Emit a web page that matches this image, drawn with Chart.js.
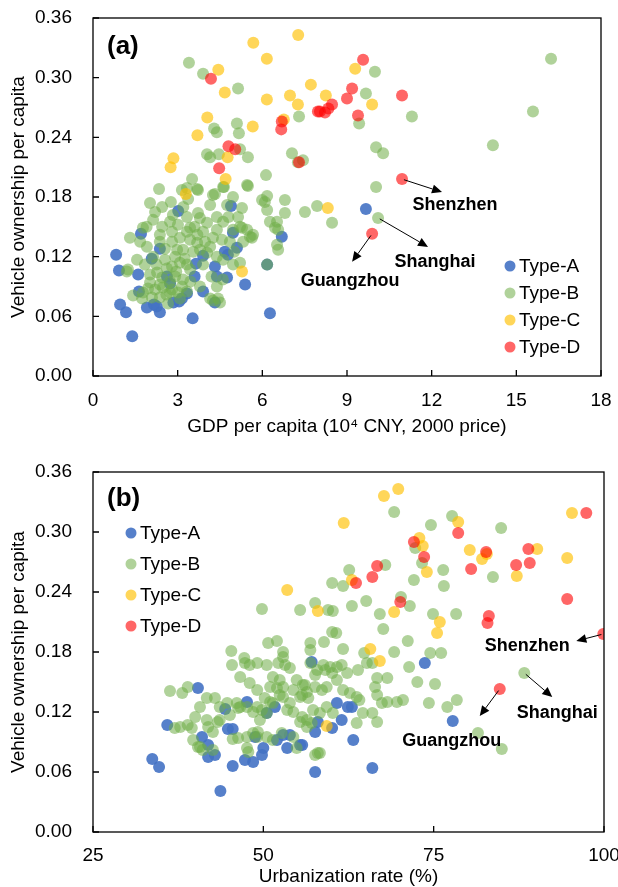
<!DOCTYPE html>
<html>
<head>
<meta charset="utf-8">
<script src="https://cdn.jsdelivr.net/npm/chart.js@4.4.0/dist/chart.umd.min.js"></script>
<style>
  html, body { margin: 0; padding: 0; background: #fff; }
  canvas { display: block; }
</style>
</head>
<body>
<canvas id="gdpChart" width="618" height="440"></canvas>
<canvas id="urbChart" width="618" height="447"></canvas>
<script>
// ==========================
// Data
// ==========================
const typeLabels = ["Type-A", "Type-B", "Type-C", "Type-D"];
const typeKeys = ["A", "B", "C", "D"];

const gdpTicks = [0, 3, 6, 9, 12, 15, 18];
const urbTicks = [25, 50, 75, 100];
const vehTicks = [0, 0.06, 0.12, 0.18, 0.24, 0.30, 0.36];

// labelled cities (added to their type series)
const cityNames = ["Shenzhen", "Shanghai", "Guangzhou"];
const cityTypes = ["D", "B", "D"];
const cityGdp = [10.95, 10.1, 9.89];
const cityUrban = [99.9, 88.3, 84.7];
const cityVehicle = [0.198, 0.159, 0.143];

// panel (a): [GDP per capita, vehicles per capita]
const gdpTypeA = [
  [0.82,0.122],[0.92,0.106],[0.96,0.072],[1.17,0.064],[1.39,0.040],[1.70,0.143],[2.37,0.128],[2.08,0.118],
  [1.60,0.102],[1.63,0.085],[1.91,0.069],[2.26,0.070],[2.37,0.064],[2.16,0.072],[2.62,0.100],[2.73,0.093],
  [3.02,0.166],[2.85,0.074],[3.05,0.075],[3.15,0.078],[3.33,0.083],[3.65,0.113],[3.90,0.121],[3.60,0.100],
  [3.90,0.085],[3.53,0.058],[4.32,0.110],[4.39,0.100],[4.75,0.099],[4.67,0.125],[4.78,0.122],[5.10,0.129],
  [4.96,0.144],[4.89,0.171],[5.39,0.092],[4.32,0.074],[6.27,0.063],[6.69,0.140],[6.17,0.112],[9.67,0.168]
];
const gdpTypeB = [
  [16.23,0.319],[15.59,0.266],[14.17,0.232],[9.99,0.306],[9.67,0.284],[9.43,0.254],[11.30,0.261],[10.03,0.230],
  [10.28,0.224],[10.03,0.190],[7.51,0.165],[7.94,0.171],[8.47,0.154],
  [3.40,0.315],[3.90,0.304],[5.14,0.289],[4.29,0.249],[4.39,0.245],[5.10,0.254],[5.17,0.244],[4.04,0.223],
  [4.15,0.220],[4.46,0.223],[5.21,0.228],[5.49,0.220],[7.05,0.224],[7.44,0.217],[7.30,0.261],[7.26,0.215],
  [6.13,0.202],[5.49,0.191],[4.64,0.190],[3.51,0.198],[3.15,0.187],[3.69,0.188],[2.34,0.188],[2.02,0.174],
  [2.76,0.175],[3.37,0.178],[4.32,0.183],[4.96,0.180],[5.28,0.169],[5.99,0.177],[6.09,0.175],[6.80,0.177],
  [6.17,0.181],[4.25,0.182],[4.61,0.190],[3.72,0.187],[3.33,0.189],[5.46,0.192],
  [6.17,0.167],[4.75,0.172],[4.15,0.172],[3.72,0.164],[3.33,0.160],[2.83,0.162],[2.20,0.165],[2.13,0.157],
  [2.73,0.155],[3.01,0.152],[3.44,0.149],[3.79,0.159],[4.04,0.154],[4.39,0.160],[4.61,0.155],[5.14,0.160],
  [5.28,0.149],[4.96,0.147],[4.39,0.147],[3.90,0.145],[3.33,0.145],[2.80,0.145],[2.37,0.142],[1.77,0.149],
  [1.31,0.139],[1.67,0.135],[1.91,0.130],[2.37,0.135],[2.80,0.135],[3.08,0.139],[3.44,0.137],[3.69,0.134],
  [3.97,0.135],[4.25,0.139],[4.57,0.137],[4.85,0.135],[5.32,0.135],[5.63,0.139],[5.46,0.147],[6.27,0.155],
  [6.52,0.155],[6.45,0.149],[6.56,0.147],[6.52,0.132],[6.56,0.127],[6.17,0.112],[5.21,0.150],[5.56,0.140],
  [6.80,0.164],[5.67,0.142],
  [1.56,0.117],[1.84,0.112],[2.13,0.120],[2.55,0.117],[2.91,0.120],[3.19,0.127],[2.98,0.127],[2.80,0.110],
  [3.08,0.114],[3.33,0.112],[3.44,0.107],[4.04,0.124],[4.39,0.120],[4.61,0.117],[4.96,0.112],[5.21,0.114],
  [4.15,0.130],[3.79,0.127],[1.24,0.107],[2.02,0.102],[2.27,0.104],[2.45,0.099],[2.73,0.095],[2.91,0.100],
  [3.19,0.097],[3.15,0.090],[2.37,0.092],[2.02,0.094],[2.20,0.087],[2.48,0.089],[2.80,0.087],[1.77,0.084],
  [1.42,0.081],[1.74,0.078],[2.09,0.079],[2.37,0.079],[2.73,0.084],[3.01,0.084],[3.33,0.085],[3.08,0.078],
  [4.39,0.090],[4.25,0.076],[4.50,0.074],[2.66,0.073],[1.20,0.105],[3.79,0.090],[4.15,0.078],[4.43,0.078],
  [2.55,0.128],[2.62,0.108],[3.25,0.118],[3.55,0.125],[2.45,0.150],[3.60,0.150],[3.90,0.112],[4.20,0.100],
  [2.95,0.105],[2.60,0.082],[3.45,0.095],[1.95,0.088],[2.25,0.112],[3.70,0.142],[4.80,0.160],[5.00,0.125],
  [4.60,0.097],[3.20,0.170],[1.90,0.150],[2.45,0.170]
];
const gdpTypeC = [
  [5.68,0.335],[7.27,0.343],[6.16,0.319],[4.44,0.308],[4.67,0.285],[6.16,0.278],[6.98,0.282],[7.26,0.273],
  [7.72,0.293],[4.05,0.260],[5.66,0.251],[3.70,0.242],[2.85,0.219],[2.75,0.210],[4.77,0.220],[4.70,0.198],
  [6.76,0.258],[3.29,0.183],[9.29,0.309],[8.25,0.282],[9.89,0.273],[8.32,0.169],[5.28,0.105]
];
const gdpTypeD = [
  [4.18,0.299],[4.47,0.209],[4.80,0.231],[5.04,0.228],[6.67,0.248],[6.69,0.256],[7.30,0.215],[7.97,0.266],
  [8.04,0.266],[8.22,0.265],[8.34,0.269],[8.47,0.273],[9.00,0.279],[9.18,0.289],[9.39,0.262],[9.57,0.318],
  [10.95,0.282]
];

// panel (b): [urbanization rate, vehicles per capita]
const urbTypeA = [
  [33.7,0.073],[34.7,0.065],[35.9,0.107],[40.4,0.144],[43.7,0.041],[44.4,0.123],[41.0,0.095],[41.9,0.087],
  [41.9,0.075],[42.9,0.077],[44.8,0.103],[45.5,0.103],[45.5,0.066],[47.6,0.130],[47.3,0.072],[48.5,0.070],
  [48.8,0.095],[50.0,0.084],[49.8,0.077],[51.7,0.125],[50.5,0.119],[52.0,0.092],[53.5,0.084],[53.9,0.097],
  [55.7,0.087],[57.1,0.170],[57.6,0.100],[57.6,0.060],[58.0,0.110],[73.7,0.169],[77.8,0.111],[63.2,0.092],
  [66.0,0.064],[60.8,0.129],[62.4,0.125],[63.0,0.125],[60.1,0.104],[61.5,0.112],[55.4,0.087],[52.9,0.097]
];
const urbTypeB = [
  [69.2,0.320],[77.7,0.316],[74.6,0.307],[84.9,0.304],[67.9,0.267],[62.6,0.262],[60.1,0.249],[61.7,0.246],
  [73.3,0.269],[76.4,0.262],[72.1,0.252],[76.5,0.246],[83.7,0.255],[70.2,0.235],[71.5,0.226],[65.1,0.231],
  [63.0,0.226],[57.6,0.229],[59.5,0.222],[60.2,0.221],[67.1,0.218],[74.9,0.218],[78.3,0.218],[55.4,0.222],
  [67.6,0.203],[60.7,0.199],[71.2,0.191],[56.9,0.189],[58.9,0.190],[56.9,0.182],[61.7,0.183],[64.8,0.179],
  [69.2,0.180],[74.5,0.179],[76.1,0.179],[72.3,0.284],[49.8,0.223],
  [71.4,0.165],[72.6,0.150],[75.2,0.148],[68.2,0.154],[81.5,0.099],[85.0,0.083],[78.4,0.132],[77.0,0.125],
  [74.3,0.129],[70.5,0.132],[69.6,0.130],[68.2,0.130],[66.7,0.154],[66.4,0.145],[66.7,0.137],[67.4,0.129],
  [66.0,0.119],[66.7,0.110],[63.7,0.109],[58.3,0.079],
  [36.3,0.141],[38.1,0.139],[38.9,0.145],[37.0,0.104],[39.5,0.104],[40.0,0.115],[40.7,0.125],[39.7,0.092],
  [40.7,0.085],[41.1,0.082],[42.6,0.100],[43.3,0.110],[41.7,0.134],[42.9,0.134],[44.7,0.129],[46.1,0.129],
  [46.6,0.125],[45.5,0.093],[46.3,0.094],[47.6,0.095],[47.6,0.084],[47.8,0.080],[48.5,0.099],[49.2,0.100],
  [49.8,0.122],[49.1,0.125],[48.5,0.120],[48.0,0.167],[49.1,0.169],[50.5,0.167],[52.2,0.169],[53.2,0.167],
  [53.9,0.164],[51.4,0.155],[52.4,0.152],[52.9,0.145],[52.0,0.144],[52.4,0.137],[53.9,0.129],[54.4,0.120],
  [50.2,0.134],[51.0,0.130],[55.4,0.110],[56.4,0.105],[54.9,0.084],[57.6,0.077],[45.4,0.167],[47.3,0.169],
  [56.4,0.140],[57.6,0.157],[55.8,0.147],[45.3,0.181],[47.2,0.174],[50.7,0.189],[52.0,0.191],[52.9,0.180],
  [60.1,0.200],[56.9,0.169],[57.9,0.162],[59.1,0.162],[60.1,0.159],[54.9,0.152],[58.6,0.142],[59.3,0.145],
  [46.6,0.155],[48.0,0.149],[49.1,0.142],[43.6,0.125],[41.7,0.112],[43.6,0.112],[45.1,0.117],[46.3,0.124],
  [47.6,0.125],[49.5,0.112],[50.5,0.119],[51.4,0.129],[52.9,0.135],[51.0,0.145],[53.5,0.122],[55.7,0.115],
  [57.3,0.122],[58.3,0.119],[54.4,0.142],[55.4,0.135],[38.9,0.107],[40.4,0.085],[41.9,0.105],[49.1,0.095],
  [50.5,0.095],[51.4,0.092],[52.7,0.099],[54.4,0.095],[56.4,0.112],[57.1,0.109],[58.0,0.079],[37.8,0.105],
  [52.9,0.175],[42.6,0.082],
  [65.2,0.169],[66.0,0.169],[63.9,0.162],[62.3,0.159],[60.8,0.152],[61.7,0.142],[62.7,0.139],[63.7,0.135],
  [64.1,0.132],[55.7,0.137],[56.6,0.134],[58.8,0.167],[59.8,0.165],[60.8,0.165],[61.5,0.167],[56.1,0.147],
  [57.6,0.145],[59.3,0.125],[60.2,0.119],[64.6,0.119]
];
const urbTypeC = [
  [67.7,0.336],[69.8,0.343],[61.8,0.309],[95.3,0.319],[78.6,0.310],[72.9,0.294],[73.4,0.286],[80.3,0.282],
  [82.1,0.273],[82.8,0.278],[90.2,0.283],[94.6,0.274],[87.2,0.256],[74.0,0.260],[63.0,0.252],[69.2,0.220],
  [75.9,0.210],[75.5,0.199],[58.0,0.221],[65.7,0.183],[67.1,0.171],[53.5,0.242],[59.3,0.106]
];
const urbTypeD = [
  [97.4,0.319],[94.6,0.233],[83.1,0.216],[82.9,0.209],[78.6,0.299],[82.7,0.280],[80.5,0.263],[88.9,0.283],
  [89.1,0.269],[87.1,0.267],[72.1,0.290],[73.6,0.275],[66.7,0.266],[66.0,0.255],[63.6,0.249],[70.1,0.230]
];

// ==========================
// Styling
// ==========================
const typeColors = [
  "rgba(68, 114, 196, 0.9)",
  "rgba(112, 173, 71, 0.55)",
  "rgba(255, 192, 0, 0.65)",
  "rgba(255, 0, 0, 0.6)",
];
const FONT = '"Liberation Sans", Arial, sans-serif';
Chart.defaults.font.family = FONT;
Chart.defaults.color = "#000";

function withCities(points, key, cityX) {
  const extra = [];
  cityNames.forEach((name, i) => {
    if (cityTypes[i] === key) extra.push([cityX[i], cityVehicle[i]]);
  });
  return points.concat(extra);
}

function makeDatasets(groups, cityX) {
  return typeLabels.map((label, i) => ({
    label: label,
    data: withCities(groups[i], typeKeys[i], cityX).map((p) => ({ x: p[0], y: p[1] })),
    backgroundColor: typeColors[i],
    borderWidth: 0,
    pointRadius: 6,
    pointHoverRadius: 6,
    order: typeLabels.length - i, // Type-D drawn on top
  }));
}

function drawArrow(ctx, x1, y1, x2, y2) {
  const ang = Math.atan2(y2 - y1, x2 - x1);
  const cos = Math.cos(ang), sin = Math.sin(ang);
  const head = 10, half = 4.5;
  ctx.beginPath();
  ctx.moveTo(x1 + 2 * cos, y1 + 2 * sin);
  ctx.lineTo(x2 - head * cos, y2 - head * sin);
  ctx.stroke();
  ctx.beginPath();
  ctx.moveTo(x2, y2);
  ctx.lineTo(x2 - head * cos + half * sin, y2 - head * sin - half * cos);
  ctx.lineTo(x2 - head * cos - half * sin, y2 - head * sin + half * cos);
  ctx.closePath();
  ctx.fill();
}

// no extra room for overflowing tick labels: the layout padding handles it
function noScalePadding(s) {
  s.paddingLeft = 0;
  s.paddingRight = 0;
  s.paddingTop = 0;
  s.paddingBottom = 0;
}

// frame, inward ticks, panel tag, legend and city notes
function makeDecor(cfg) {
  return {
    id: "decor",
    afterDraw(chart) {
      const { ctx, chartArea: area, scales } = chart;
      ctx.save();
      ctx.strokeStyle = "#000";
      ctx.fillStyle = "#000";
      ctx.lineWidth = 1.3;
      ctx.strokeRect(area.left, area.top, area.right - area.left, area.bottom - area.top);

      ctx.beginPath();
      scales.x.ticks.forEach((t, i) => {
        const px = scales.x.getPixelForTick(i);
        ctx.moveTo(px, area.bottom);
        ctx.lineTo(px, area.bottom - 6);
      });
      scales.y.ticks.forEach((t, i) => {
        const py = scales.y.getPixelForTick(i);
        ctx.moveTo(area.left, py);
        ctx.lineTo(area.left + 6, py);
      });
      ctx.stroke();

      ctx.font = `bold 26px ${FONT}`;
      ctx.textAlign = "left";
      ctx.textBaseline = "middle";
      ctx.fillText(cfg.tag, area.left + 14, area.top + cfg.tagDy);

      const lx = cfg.legendFromRight ? area.right - cfg.legendFromRight : area.left + cfg.legendFromLeft;
      const ly = cfg.legendFromBottom ? area.bottom - cfg.legendFromBottom : area.top + cfg.legendFromTop;
      ctx.font = `19px ${FONT}`;
      chart.data.datasets.forEach((ds, i) => {
        const y = ly + i * cfg.legendGap;
        ctx.beginPath();
        ctx.arc(lx, y, 5.5, 0, Math.PI * 2);
        ctx.fillStyle = ds.backgroundColor;
        ctx.fill();
        ctx.fillStyle = "#000";
        ctx.fillText(ds.label, lx + 9, y + 1);
      });

      ctx.font = `bold 18px ${FONT}`;
      ctx.textAlign = "center";
      ctx.lineWidth = 1;
      cityNames.forEach((name, i) => {
        const px = scales.x.getPixelForValue(cfg.cityX[i]);
        const py = scales.y.getPixelForValue(cityVehicle[i]);
        const n = cfg.notes[i];
        drawArrow(ctx, px, py, px + n.tip[0], py + n.tip[1]);
        ctx.fillText(name, px + n.text[0], py + n.text[1]);
      });
      ctx.restore();
    },
  };
}

function createScatter(canvasId, opts) {
  const ctx = document.getElementById(canvasId).getContext("2d");
  return new Chart(ctx, {
    type: "scatter",
    data: { datasets: makeDatasets(opts.groups, opts.cityX) },
    options: {
      responsive: false,
      animation: false,
      layout: { padding: opts.padding },
      plugins: {
        legend: { display: false },
        tooltip: { enabled: false },
      },
      scales: {
        x: {
          type: "linear",
          min: opts.xTicks[0],
          max: opts.xTicks[opts.xTicks.length - 1],
          afterBuildTicks: (s) => { s.ticks = opts.xTicks.map((v) => ({ value: v })); },
          afterFit: (s) => { s.height = opts.xAxisHeight; noScalePadding(s); },
          grid: { display: false, drawTicks: false },
          border: { display: false },
          ticks: { padding: opts.xTickPad, font: { size: 19 }, color: "#000", maxRotation: 0 },
          title: {
            display: true,
            text: opts.xTitle,
            font: { size: 19, lineHeight: 1 },
            color: "#000",
            padding: { top: 0, bottom: opts.xTitlePad },
          },
        },
        y: {
          type: "linear",
          min: 0,
          max: 0.36,
          afterBuildTicks: (s) => { s.ticks = vehTicks.map((v) => ({ value: v })); },
          afterFit: (s) => { s.width = 93; noScalePadding(s); },
          grid: { display: false, drawTicks: false },
          border: { display: false },
          ticks: {
            padding: 21,
            font: { size: 19 },
            color: "#000",
            callback: (v) => Number(v).toFixed(2),
          },
          title: {
            display: true,
            text: "Vehicle ownership per capita",
            font: { size: 19, lineHeight: 1 },
            color: "#000",
            padding: { top: 9, bottom: 0 },
          },
        },
      },
    },
    plugins: [makeDecor(opts.decor)],
  });
}

// ==========================
// Panels
// ==========================
createScatter("gdpChart", {
  groups: [gdpTypeA, gdpTypeB, gdpTypeC, gdpTypeD],
  cityX: cityGdp,
  xTicks: gdpTicks,
  xTitle: "GDP per capita (10\u2074 CNY, 2000 price)",
  padding: { top: 18, right: 17, left: 0, bottom: 0 },
  xAxisHeight: 64,
  xTickPad: 13,
  xTitlePad: 3.5,
  decor: {
    tag: "(a)",
    tagDy: 29,
    cityX: cityGdp,
    legendFromRight: 91,
    legendFromBottom: 110,
    legendGap: 27,
    notes: [
      { tip: [40, 13], text: [53, 26] },
      { tip: [50, 29], text: [57, 44] },
      { tip: [-20, 28], text: [-22, 47] },
    ],
  },
});

createScatter("urbChart", {
  groups: [urbTypeA, urbTypeB, urbTypeC, urbTypeD],
  cityX: cityUrban,
  xTicks: urbTicks,
  xTitle: "Urbanization rate (%)",
  padding: { top: 32, right: 14, left: 0, bottom: 0 },
  xAxisHeight: 55,
  xTickPad: 12,
  xTitlePad: 0.5,
  decor: {
    tag: "(b)",
    tagDy: 27,
    cityX: cityUrban,
    legendFromLeft: 38,
    legendFromTop: 61,
    legendGap: 31,
    notes: [
      { tip: [-27, 7], text: [-76, 12] },
      { tip: [28, 24], text: [33, 40] },
      { tip: [-20, 27], text: [-48, 52] },
    ],
  },
});
</script>
</body>
</html>
